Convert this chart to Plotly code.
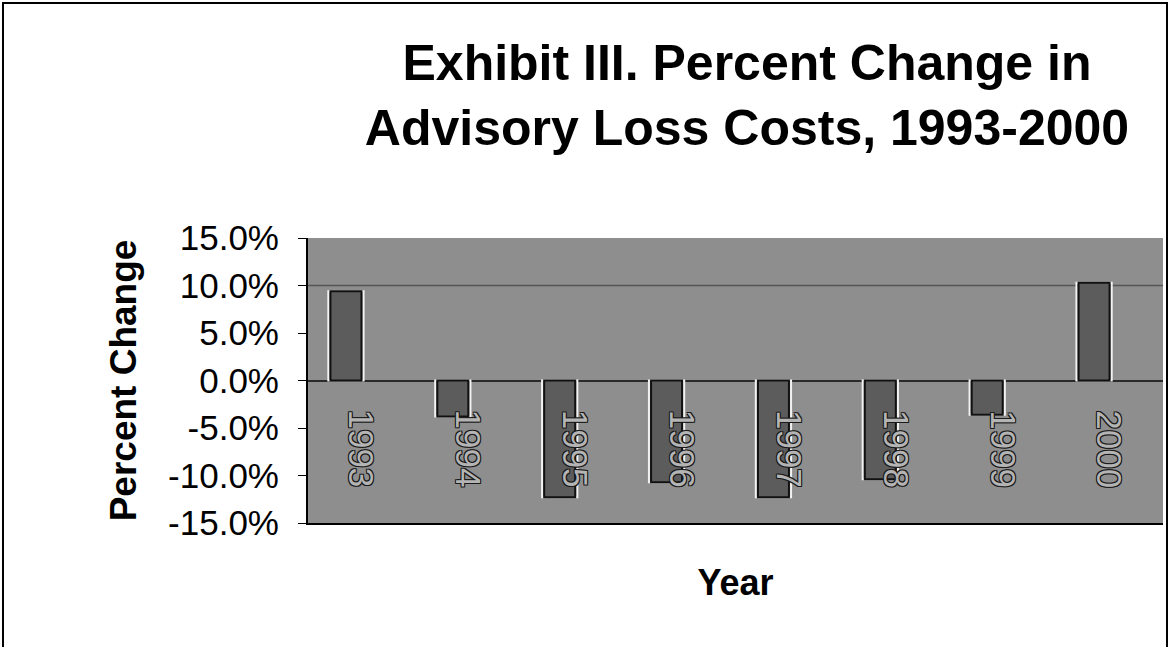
import plotly.graph_objects as go

years = [1993, 1994, 1995, 1996, 1997, 1998, 1999, 2000]
pct_change = [9.4, -3.8, -12.3, -10.7, -12.3, -10.4, -3.6, 10.3]
y_ticks = [15, 10, 5, 0, -5, -10, -15]
y_tick_text = ["15.0%", "10.0%", "5.0%", "0.0%", "-5.0%", "-10.0%", "-15.0%"]

FONT = "Liberation Sans, Arial, sans-serif"
OUTLINE = ("-1px -1px 0 #1a1a1a, 1px -1px 0 #1a1a1a, "
           "-1px 1px 0 #1a1a1a, 1px 1px 0 #1a1a1a")

fig = go.Figure()

# light halo behind bars
fig.add_trace(go.Bar(
    x=years, y=pct_change,
    offset=-0.31, width=0.33,
    marker=dict(color="rgba(0,0,0,0)", line=dict(color="#f2f2f2", width=2)),
    hoverinfo="skip", showlegend=False,
))
fig.add_trace(go.Bar(
    x=years, y=pct_change,
    offset=-0.29, width=0.29,
    marker=dict(color="#5c5c5c", line=dict(color="#111111", width=2)),
    showlegend=False,
))

for yr in years:
    fig.add_annotation(
        x=yr, y=-7.2, text=str(yr), textangle=90, showarrow=False,
        font=dict(family=FONT, size=35, color="#b4b4b4", shadow=OUTLINE),
        xanchor="center", yanchor="middle",
    )

fig.add_shape(type="line", xref="paper", yref="y", x0=0, x1=1, y0=10, y1=10,
              line=dict(color="#555555", width=1.5), layer="below")

fig.add_shape(type="rect", xref="paper", yref="paper",
              x0=-305/855, x1=1 + 4/855, y0=-0.6, y1=1 + 235/285,
              line=dict(color="black", width=2), layer="above")

fig.update_layout(
    width=1170, height=647,
    margin=dict(l=308, r=7, t=238, b=124),
    paper_bgcolor="white",
    plot_bgcolor="#8e8e8e",
    barmode="overlay",
    font=dict(family=FONT, color="black"),
    title=dict(
        text="<b>Exhibit III. Percent Change in<br>Advisory Loss Costs, 1993-2000</b>",
        x=747/1170, xanchor="center", xref="container",
        y=1 - 80/647, yanchor="middle",
        font=dict(family=FONT, size=50, color="black"),
    ),
    xaxis=dict(
        range=[years[0] - 0.5, years[-1] + 0.5],
        showticklabels=False,
        ticks="",
        showgrid=False,
        zeroline=False,
        showline=True, linecolor="black", linewidth=2,
        title=dict(text="<b>Year</b>", font=dict(family=FONT, size=36, color="black"), standoff=46),
    ),
    yaxis=dict(
        range=[-15, 15],
        tickvals=y_ticks, ticktext=y_tick_text,
        tickfont=dict(family=FONT, size=35, color="black"),
        ticks="outside", ticklen=8, tickcolor="black", tickwidth=1,
        ticklabelstandoff=12,
        showgrid=False,
        zeroline=True, zerolinecolor="#2a2a2a", zerolinewidth=2,
        showline=True, linecolor="black", linewidth=2,
        title=dict(text="<b>Percent Change</b>", font=dict(family=FONT, size=37, color="black"), standoff=20),
    ),
)

fig.write_html("out.html")
